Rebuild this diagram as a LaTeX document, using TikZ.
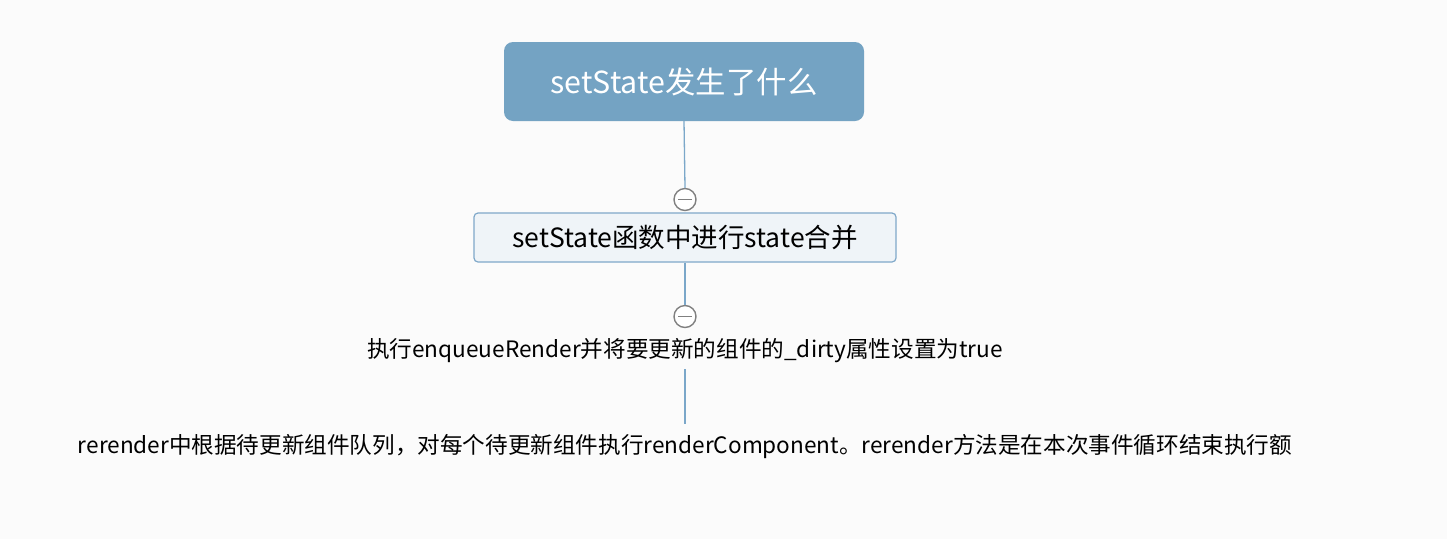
\documentclass[tikz,border=0pt]{standalone}
\usepackage{fontspec}
\setmainfont{Noto Sans CJK SC}
\definecolor{bg}{HTML}{FBFBFB}
\definecolor{topfill}{HTML}{74A3C3}
\definecolor{linec}{HTML}{7BA7C9}
\definecolor{subfill}{HTML}{EFF4F8}
\definecolor{subborder}{HTML}{7FA8C9}
\definecolor{circc}{HTML}{808080}
\tikzset{
  topbox/.style={fill=topfill, rounded corners=9pt, minimum width=360pt, minimum height=79pt, inner sep=0pt, text=white, font=\fontsize{30.4}{36}\selectfont},
  subbox/.style={draw=subborder, line width=1.2pt, fill=subfill, rounded corners=4pt, minimum width=422pt, minimum height=49pt, inner sep=0pt, font=\fontsize{26.5}{31}\selectfont},
  plain/.style={inner sep=0pt, font=\fontsize{22.6}{27}\selectfont},
  conn/.style={draw=linec, line width=1.3pt},
  collapse/.style={circle, draw=circc, line width=1.4pt, fill=white, minimum size=22pt, inner sep=0pt,
    path picture={\draw[circc, line width=1.4pt] ([xshift=-7pt]path picture bounding box.center) -- ([xshift=7pt]path picture bounding box.center);}}
}
\begin{document}
\begin{tikzpicture}[x=1pt,y=-1pt]
\fill[bg] (0,0) rectangle (1447,539);
\useasboundingbox (0,0) rectangle (1447,539);
\node[topbox] (top) at (684,81.5) {setState发生了什么};
\node[collapse] (c1) at (685,199.5) {};
\node[subbox] (n2) at (685,237.5) {setState函数中进行state合并};
\node[collapse] (c2) at (685,316.5) {};
\node[plain, minimum height=36pt] (t3) at (685,351) {执行enqueueRender并将要更新的组件的\_dirty属性设置为true};
\node[plain, minimum height=46pt] (t4) at (685,447) {rerender中根据待更新组件队列，对每个待更新组件执行renderComponent。rerender方法是在本次事件循环结束执行额};
\draw[conn] (top.south) -- (c1.north);
\draw[conn] (n2.south) -- (c2.north);
\draw[conn] (t3.south) -- (t4.north);
\end{tikzpicture}
\end{document}
